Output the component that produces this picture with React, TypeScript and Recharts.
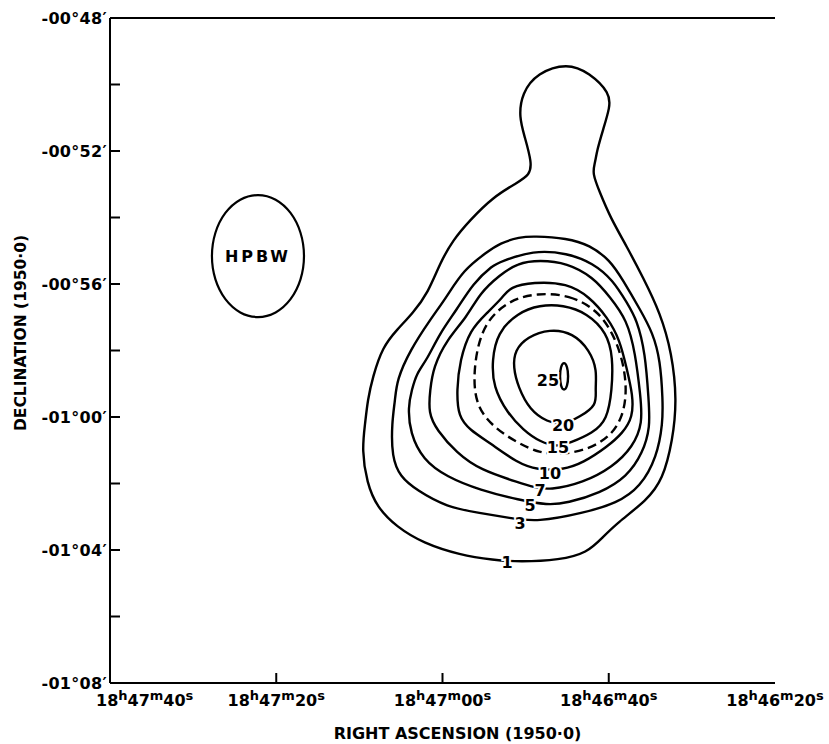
import React from 'react';
import { ComposedChart, Line, XAxis, YAxis, ReferenceLine, ReferenceDot } from 'recharts';

type Pt = { ra: number; dec: number };
// ra: seconds after 18h46m00s (RA 1950.0); dec: arcminutes (Dec 1950.0)
const toPts = (arr: number[][]): Pt[] => arr.map(([ra, dec]) => ({ ra, dec }));

const contour1 = toPts([
  [45.0, -49.35], [42.3, -49.65], [39.85, -50.26], [39.85, -50.68], [40.7, -51.37], [41.4, -51.97],
  [41.65, -52.36], [42.0, -52.66], [41.05, -53.26], [39.85, -53.98], [37.8, -54.89], [35.9, -55.79],
  [33.8, -56.87], [32.4, -58.08], [31.8, -59.49], [32.3, -60.69], [33.5, -61.89], [35.4, -62.5],
  [39.0, -63.19], [40.7, -63.61], [42.6, -64.09], [45.9, -64.3], [50.7, -64.36], [53.9, -64.3],
  [57.9, -64.15], [62.35, -63.79], [65.5, -63.31], [67.9, -62.71], [69.1, -61.98], [69.7, -60.99],
  [69.3, -60.18], [69.0, -59.49], [68.4, -58.8], [67.2, -57.89], [65.5, -57.38], [63.55, -56.87],
  [61.75, -56.27], [60.3, -55.37], [58.75, -54.68], [56.7, -54.08], [53.9, -53.38], [51.05, -52.96],
  [49.5, -52.72], [49.25, -52.36], [50.1, -51.58], [50.8, -50.98], [50.45, -50.26], [48.6, -49.65],
]);

const contour3 = toPts([
  [50.7, -54.59], [49.1, -54.56], [45.0, -54.62], [42.3, -54.83], [39.85, -55.28], [38.3, -55.88],
  [36.2, -56.78], [34.7, -57.47], [33.8, -58.29], [33.5, -59.49], [33.5, -60.18], [34.2, -61.2],
  [36.2, -62.11], [39.0, -62.59], [43.1, -62.89], [48.6, -63.16], [51.9, -63.04], [55.5, -62.89],
  [59.5, -62.71], [63.1, -62.2], [65.1, -61.8], [66.1, -61.2], [66.1, -60.18], [65.7, -59.49],
  [65.5, -58.89], [63.9, -57.99], [61.5, -57.08], [59.5, -56.39], [57.5, -55.58], [54.65, -55.04],
  [53.1, -54.77],
]);

const contour5 = toPts([
  [53.1, -55.34], [49.1, -54.98], [45.0, -55.07], [41.9, -55.37], [39.5, -55.88], [37.8, -56.57],
  [36.6, -57.08], [35.6, -58.08], [35.2, -59.49], [35.0, -60.3], [35.9, -61.08], [37.8, -61.8],
  [41.05, -62.29], [45.0, -62.59], [47.4, -62.65], [50.7, -62.5], [55.5, -62.2], [59.5, -61.8],
  [62.35, -61.29], [63.9, -60.48], [64.15, -59.7], [63.7, -59.19], [63.1, -58.68], [61.9, -58.29],
  [60.3, -57.47], [58.3, -56.78], [56.3, -55.97], [53.9, -55.43],
]);

const contour7 = toPts([
  [53.1, -55.73], [51.0, -55.37], [48.3, -55.28], [45.0, -55.37], [41.9, -55.79], [39.85, -56.39],
  [37.8, -57.08], [36.8, -58.08], [36.2, -59.34], [35.9, -60.18], [37.1, -60.9], [39.5, -61.5],
  [43.1, -61.98], [47.1, -62.2], [49.1, -62.11], [50.7, -61.98], [55.5, -61.59], [58.3, -61.08],
  [60.7, -60.39], [61.7, -59.88], [61.5, -59.19], [61.1, -58.5], [59.5, -57.68], [57.05, -56.99],
  [55.5, -56.27],
]);

const contour10 = toPts([
  [52.7, -56.39], [51.9, -56.09], [49.1, -55.94], [45.0, -55.97], [42.3, -56.39], [40.2, -56.99],
  [38.65, -57.68], [37.8, -58.59], [37.1, -59.34], [37.1, -60.0], [38.3, -60.48], [40.2, -60.9],
  [43.1, -61.38], [45.5, -61.59], [48.6, -61.59], [51.0, -61.38], [54.3, -60.78], [56.7, -60.39],
  [58.1, -60.0], [58.3, -59.19], [57.9, -58.29], [56.7, -57.38], [54.65, -56.87],
]);

const contourDashed = toPts([
  [48.6, -56.27], [44.7, -56.33], [41.4, -56.78], [39.5, -57.47], [38.3, -58.29], [37.8, -59.19],
  [38.3, -60.0], [39.85, -60.6], [42.6, -60.99], [45.9, -61.14], [48.3, -61.08], [51.0, -60.78],
  [53.9, -60.3], [55.85, -59.7], [56.3, -58.89], [55.85, -57.89], [54.65, -57.08], [51.9, -56.48],
]);

const contour15 = toPts([
  [48.3, -56.63], [45.5, -56.63], [42.6, -56.87], [40.2, -57.47], [39.5, -58.2], [39.6, -59.19],
  [40.2, -60.09], [41.9, -60.48], [44.7, -60.78], [46.1, -60.9], [48.3, -60.75], [50.3, -60.39],
  [52.2, -59.88], [53.9, -59.1], [54.05, -58.29], [53.4, -57.47], [51.0, -56.87],
]);

const contour20 = toPts([
  [47.1, -57.35], [44.3, -57.47], [42.3, -57.99], [41.4, -58.59], [41.65, -59.19], [41.4, -59.64],
  [43.5, -60.0], [45.5, -60.24], [47.4, -60.15], [49.5, -59.79], [50.9, -59.1], [51.5, -58.5],
  [51.3, -57.99], [49.8, -57.59],
]);

const contour25 = toPts([
  [45.38, -58.33], [44.98, -58.48], [44.85, -58.77], [44.98, -59.08], [45.38, -59.22], [45.78, -59.08],
  [45.9, -58.77], [45.78, -58.48],
]);

const beam = toPts([
  [82.2, -53.28], [80.02, -53.42], [78.18, -53.83], [76.95, -54.44], [76.52, -55.16], [76.95, -55.88],
  [78.18, -56.49], [80.02, -56.9], [82.2, -57.04], [84.38, -56.9], [86.22, -56.49], [87.45, -55.88],
  [87.88, -55.16], [87.45, -54.44], [86.22, -53.83], [84.38, -53.42],
]);
const beamLabel = { ra: 82.2, dec: -55.16, text: 'HPBW' };

const solidContours = [contour1, contour3, contour5, contour7, contour10, contour15, contour20, contour25];

const contourLabels = [
  { ra: 52.24, dec: -64.36, text: '1' },
  { ra: 50.68, dec: -63.19, text: '3' },
  { ra: 49.47, dec: -62.65, text: '5' },
  { ra: 48.27, dec: -62.2, text: '7' },
  { ra: 47.07, dec: -61.68, text: '10' },
  { ra: 46.11, dec: -60.9, text: '15' },
  { ra: 45.5, dec: -60.24, text: '20' },
  { ra: 47.31, dec: -58.89, text: '25' },
];

const raTicks = [100, 80, 60, 40, 20];
const raTickLabels = ['18h47m40s', '18h47m20s', '18h47m00s', '18h46m40s', '18h46m20s'];
const decTicks = [-48, -50, -52, -54, -56, -58, -60, -62, -64, -66, -68];
const decTickLabels: Record<string, string> = {
  '-48': '-00°48′', '-52': '-00°52′', '-56': '-00°56′', '-60': '-01°00′', '-64': '-01°04′', '-68': '-01°08′',
};
const xTitle = 'RIGHT ASCENSION (1950·0)';
const yTitle = 'DECLINATION (1950·0)';

const FONT = 'DejaVu Sans';

const XTick = (props: any) => {
  const { x, y, payload } = props;
  const v = payload.value;
  const i = raTicks.indexOf(v);
  const m = (raTickLabels[i] || '').match(/(\d+)h(\d+)m(\d+)s/) || ['', '', '', ''];
  const edge = i === 0 || i === raTicks.length - 1;
  const first = i === 0;
  const sup = { fontSize: 13 };
  return (
    <g>
      {!edge && <line x1={x} y1={y} x2={x} y2={y - 10} stroke="#000" strokeWidth={2} />}
      <text x={first ? x - 14 : x} y={y + 23} textAnchor={first ? 'start' : 'middle'} fontFamily={FONT} fontWeight="bold" fontSize={16} fill="#000">
        {m[1]}
        <tspan dy={-6} {...sup}>h</tspan>
        <tspan dy={6}>{m[2]}</tspan>
        <tspan dy={-6} {...sup}>m</tspan>
        <tspan dy={6}>{m[3]}</tspan>
        <tspan dy={-6} {...sup}>s</tspan>
      </text>
    </g>
  );
};

const YTickLeft = (props: any) => {
  const { x, y, payload } = props;
  const v = payload.value;
  const edge = v === decTicks[0] || v === decTicks[decTicks.length - 1];
  const label = decTickLabels[String(v)];
  return (
    <g>
      {!edge && <line x1={x} y1={y} x2={x + 10} y2={y} stroke="#000" strokeWidth={2} />}
      {label && (
        <text x={x - 3} y={y} dy="0.36em" textAnchor="end" fontFamily={FONT} fontWeight="bold" fontSize={16} letterSpacing={0.3} fill="#000">
          {label}
        </text>
      )}
    </g>
  );
};

const YTickRight = (props: any) => {
  const { x, y, payload } = props;
  const v = payload.value;
  const edge = v === decTicks[0] || v === decTicks[decTicks.length - 1];
  return <g>{!edge && <line x1={x - 10} y1={y} x2={x} y2={y} stroke="#000" strokeWidth={2} />}</g>;
};

const LabelShape = (text: string, opts: any) => (p: any) => (
  <text
    x={p.cx}
    y={p.cy}
    dy="0.36em"
    textAnchor="middle"
    fontFamily={FONT}
    fontWeight="bold"
    fill="#000"
    stroke="#fff"
    strokeWidth={opts.halo}
    paintOrder="stroke"
    {...opts.style}
  >
    {text}
  </text>
);

const axisLine = { stroke: '#000', strokeWidth: 2 };

export default function App() {
  return (
    <div style={{ position: 'absolute', left: 0, top: 0, width: 829, height: 744, background: '#fff' }}>
      <ComposedChart width={829} height={744} margin={{ top: 18, right: 54, bottom: 11, left: 10 }}>
        <XAxis
          type="number"
          dataKey="ra"
          domain={[20, 100]}
          reversed
          allowDataOverflow
          ticks={raTicks}
          interval={0}
          tickSize={0}
          tickMargin={0}
          tickLine={false}
          axisLine={axisLine}
          height={50}
          tick={<XTick />}
          label={{
            content: (p: any) => {
              const vb = p.viewBox;
              return (
                <text x={vb.x + vb.width / 2 + 15} y={vb.y + 56} textAnchor="middle" fontFamily={FONT} fontWeight="bold" fontSize={16} fill="#000">
                  {xTitle}
                </text>
              );
            },
          }}
        />
        <YAxis
          type="number"
          dataKey="dec"
          domain={[-68, -48]}
          allowDataOverflow
          ticks={decTicks}
          interval={0}
          tickSize={0}
          tickMargin={0}
          tickLine={false}
          axisLine={axisLine}
          width={100}
          tick={<YTickLeft />}
          label={{
            content: (p: any) => {
              const vb = p.viewBox;
              const cx = vb.x + 10;
              const cy = 333;
              return (
                <text x={cx} y={cy} transform={`rotate(-90 ${cx} ${cy})`} dy="0.36em" textAnchor="middle" fontFamily={FONT} fontWeight="bold" fontSize={15.5} fill="#000">
                  {yTitle}
                </text>
              );
            },
          }}
        />
        <YAxis
          yAxisId="r"
          orientation="right"
          type="number"
          domain={[-68, -48]}
          allowDataOverflow
          ticks={decTicks}
          interval={0}
          tickSize={0}
          tickMargin={0}
          tickLine={false}
          axisLine={axisLine}
          width={0}
          tick={<YTickRight />}
        />
        <ReferenceLine y={-48} stroke="#000" strokeWidth={2} />
        {solidContours.map((c, i) => (
          <Line
            key={'c' + i}
            data={c}
            dataKey="dec"
            type="basisClosed"
            stroke="#000"
            strokeWidth={2.4}
            dot={false}
            activeDot={false}
            isAnimationActive={false}
          />
        ))}
        <Line
          data={contourDashed}
          dataKey="dec"
          type="basisClosed"
          stroke="#000"
          strokeWidth={2.4}
          strokeDasharray="9 5"
          dot={false}
          activeDot={false}
          isAnimationActive={false}
        />
        <Line
          data={beam}
          dataKey="dec"
          type="basisClosed"
          stroke="#000"
          strokeWidth={2.2}
          dot={false}
          activeDot={false}
          isAnimationActive={false}
        />
        {contourLabels.map((l) => (
          <ReferenceDot
            key={'l' + l.text}
            x={l.ra}
            y={l.dec}
            r={0}
            shape={LabelShape(l.text, { halo: 4, style: { fontSize: 16 } })}
          />
        ))}
        <ReferenceDot
          x={beamLabel.ra}
          y={beamLabel.dec}
          r={0}
          shape={LabelShape(beamLabel.text, { halo: 0, style: { fontSize: 16, letterSpacing: 3 } })}
        />
      </ComposedChart>
    </div>
  );
}
